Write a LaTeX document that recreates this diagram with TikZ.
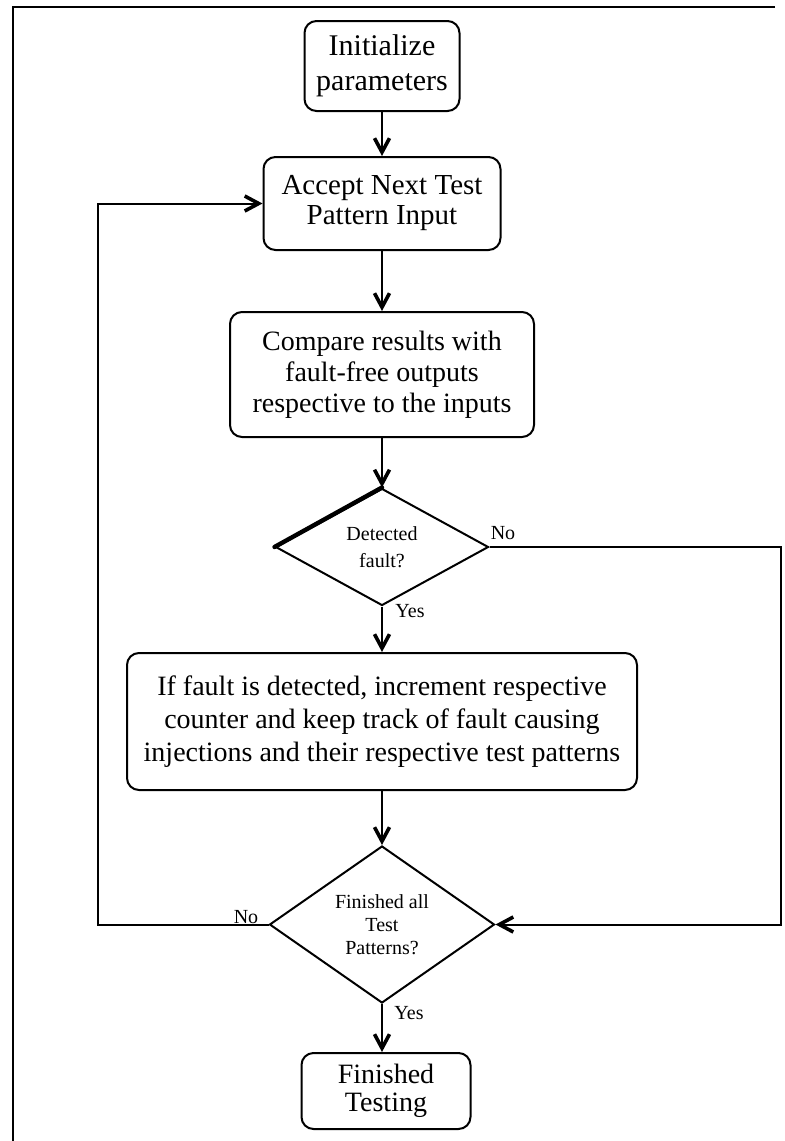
\documentclass[tikz,border=0pt]{standalone}
\usepackage{fontspec}
\setmainfont{Liberation Serif}
\usetikzlibrary{shapes.geometric}
\usetikzlibrary{arrows.meta}

\begin{document}
\begin{tikzpicture}[x=0.5pt,y=-0.5pt,
    box/.style={draw, line width=1pt, rounded corners=6pt, align=center, inner sep=0pt},
    decision/.style={draw, diamond, line width=1pt, align=center, inner sep=0pt},
    yn/.style={font=\fontsize{10}{12}\selectfont, inner sep=0pt},
    flow/.style={line width=1pt, -{Straight Barb[length=7pt,width=7.5pt,line width=1.8pt]}}]
          \useasboundingbox (0,0) rectangle (785,1141);
          \draw[line width=1.1pt] (775,7) -- (13,7) -- (13,1141);

          \node[box, minimum width=77.5pt, minimum height=45pt, font=\fontsize{15}{17.5}\selectfont] (init) at (382,66) {Initialize\\parameters};
          \node[box, minimum width=118.5pt, minimum height=46.5pt, font=\fontsize{14.5}{15}\selectfont] (accept) at (382,203.5) {Accept Next Test\\Pattern Input};
          \node[box, minimum width=152pt, minimum height=62.5pt, font=\fontsize{14}{15.5}\selectfont] (compare) at (382,374.5) {Compare results with\\fault-free outputs\\respective to the inputs};
          \node[decision, minimum width=106.5pt, minimum height=58.5pt, font=\fontsize{10}{13.5}\selectfont] (detect) at (382,547) {Detected\\fault?};
          \node[box, minimum width=255pt, minimum height=68.5pt, font=\fontsize{14}{16.5}\selectfont] (incr) at (382,721.5) {If fault is detected, increment respective\\counter and keep track of fault causing\\injections and their respective test patterns};
          \node[decision, minimum width=112.5pt, minimum height=78.5pt, font=\fontsize{10}{11.5}\selectfont] (finall) at (382,924.5) {Finished all\\Test\\Patterns?};
          \node[box, minimum width=84.5pt, minimum height=38pt, font=\fontsize{14}{14}\selectfont] (done) at (386,1091) {Finished\\Testing};

          \node[yn] (no1) at (503,533) {No};
          \node[yn] (yes1) at (410,611) {Yes};
          \node[yn] (no2) at (246,917) {No};
          \node[yn] (yes2) at (409,1013) {Yes};

          \coordinate (noright) at (781,0);
          \coordinate (noleft) at (98,0);

          \draw[flow] (init) -- (accept);
          \draw[flow] (accept) -- (compare);
          \draw[flow] (compare) -- (detect);
          \draw[flow] (detect) -- (incr);
          \draw[flow] (incr) -- (finall);
          \draw[flow] (finall.south) -- (finall.south |- done.north);
          \draw[flow] (detect.east) -- (detect.east -| noright) -- (finall.east -| noright) -- (finall.east);
          \draw[flow] (finall.west) -- (finall.west -| noleft) -- (accept.west -| noleft) -- (accept.west);
          \draw[line width=2.2pt, line cap=round] (detect.west) -- (detect.north);
        \end{tikzpicture}
\end{document}
